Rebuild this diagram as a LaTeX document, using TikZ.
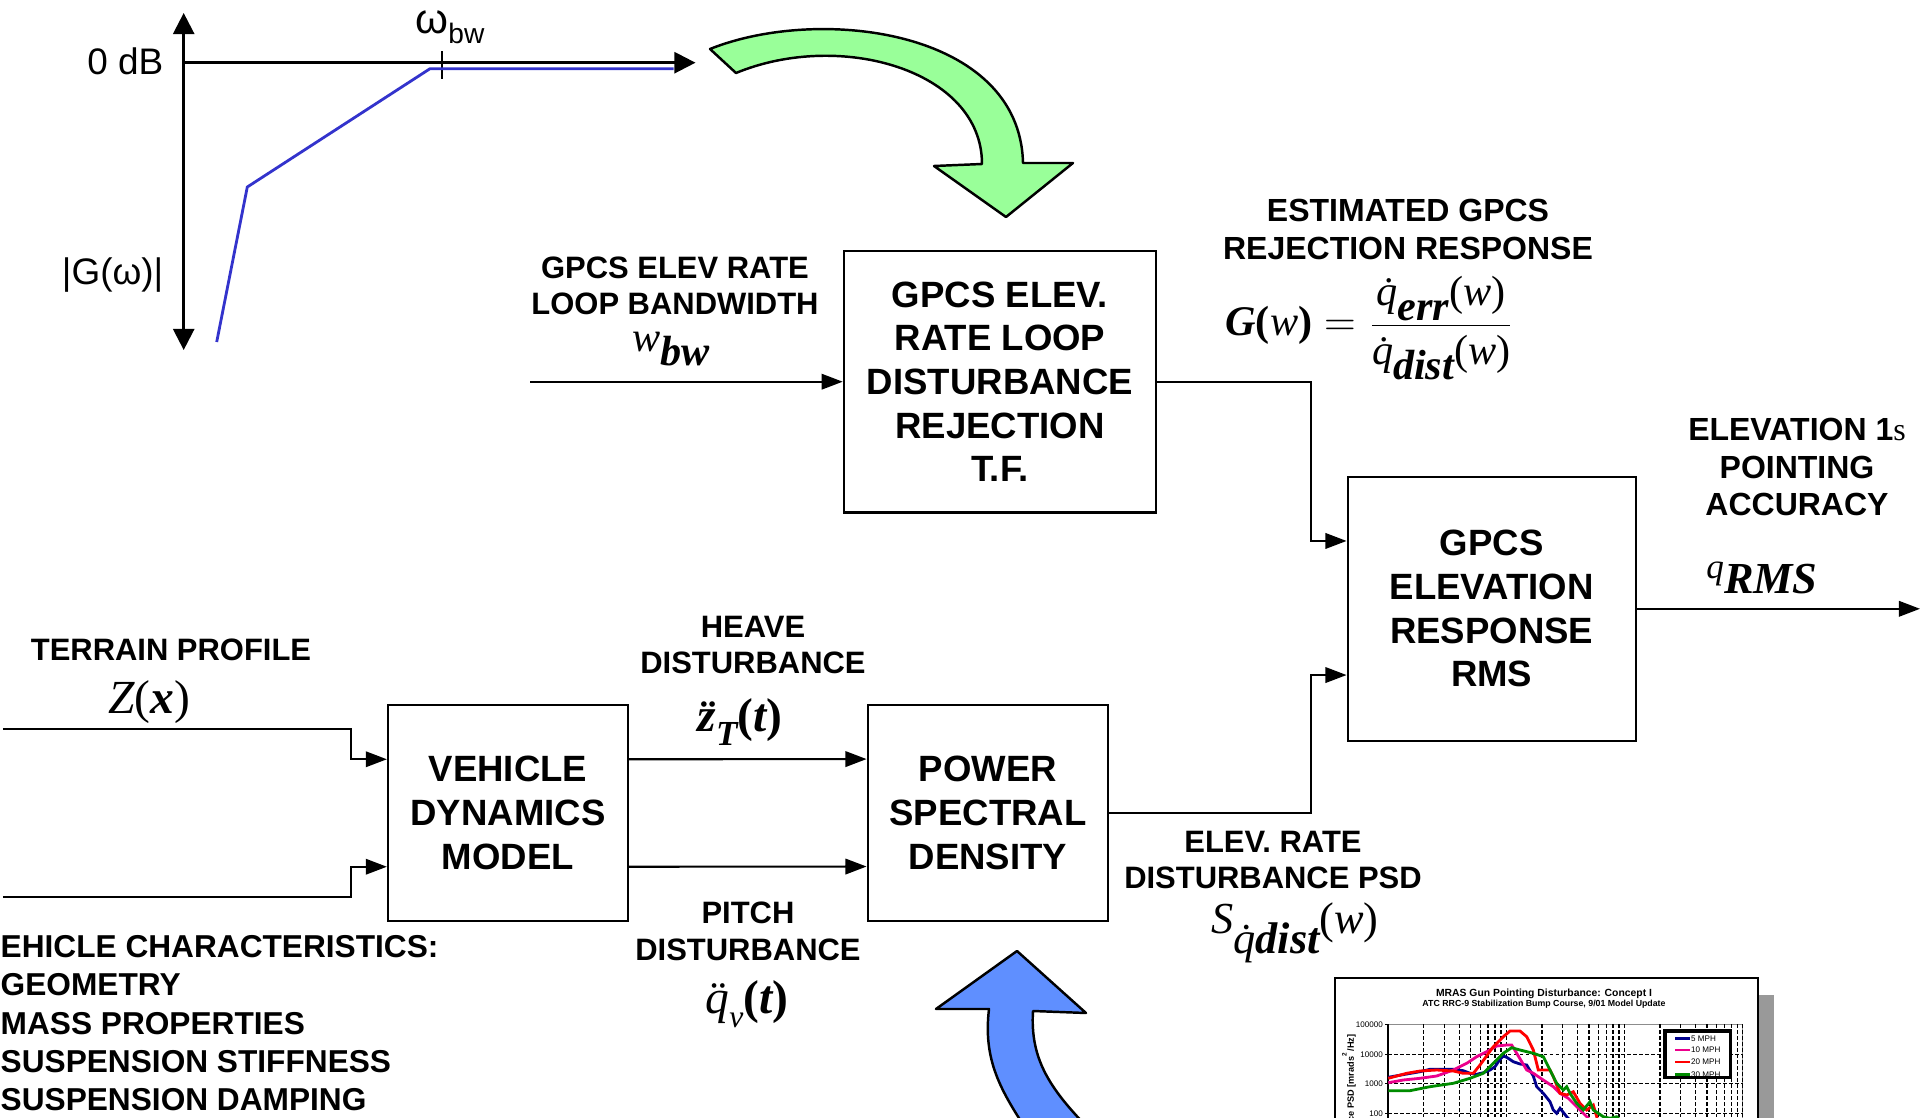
\documentclass[tikz,border=0pt]{standalone}
\usepackage{fontspec}
\setmainfont{Liberation Sans}
\newfontfamily\eqfont{Liberation Serif}
\usetikzlibrary{arrows.meta, positioning}
\definecolor{bodeblue}{RGB}{51,51,204}
\definecolor{turngreen}{HTML}{99FF99}
\definecolor{turnblue}{HTML}{5F8FFF}
\definecolor{navyline}{RGB}{0,0,140}

\begin{document}
\begin{tikzpicture}[x=0.01cm, y=-0.01cm,
    box/.style={rectangle, draw, line width=0.6pt, align=center, inner sep=0pt, font=\fontsize{10.4}{12.4}\selectfont\bfseries},
    lbl/.style={align=center, inner sep=0pt, font=\fontsize{8.8}{10.4}\selectfont\bfseries},
    eq/.style={inner sep=0pt, font=\fontsize{12}{14}\selectfont\eqfont},
    arrow/.style={-{Triangle[length=6pt, width=4.4pt]}, line width=0.6pt},
    axis/.style={line width=0.7pt},
    grid/.style={line width=0.35pt, dash pattern=on 1pt off 0.7pt},
    tiny/.style={inner sep=0pt, font=\fontsize{2.3}{2.6}\selectfont}
]
\useasboundingbox (0,0) rectangle (1920,1118);

% Bode sketch of the rejection response
\draw[axis, {Triangle[length=6pt, width=6pt]}-{Triangle[length=6pt, width=6pt]}] (183.7,350) -- (183.7,13);
\draw[axis, -{Triangle[length=6pt, width=6pt]}] (183.7,62.7) -- (695.5,62.7);
\draw[line width=0.6pt] (442,51) -- (442,79);
\draw[bodeblue, line width=0.8pt] (216.7,342) -- (247.3,187) -- (430,68.7) -- (673.5,68.7);
\node[anchor=east, inner sep=0pt, font=\fontsize{10.5}{12}\selectfont] (zerodb) at (164,61.7) {0 dB};
\node[anchor=east, inner sep=0pt, font=\fontsize{10.5}{12}\selectfont] (gmag) at (164,275) {|G(ω)|};
\node[inner sep=0pt] (wbw) at (450,27) {{\fontsize{12}{12}\selectfont ω}\raisebox{-0.55ex}{\fontsize{8}{8}\selectfont bw}};

% green turn arrow
\draw[fill=turngreen, line width=0.7pt, line join=round] (710,49) .. controls (820,5) and (1020,30) .. (1023,163) -- (1073,163) -- (1006,217) -- (934,166) -- (982,164) .. controls (982,70) and (840,30) .. (736,73) -- cycle;

% blocks
\node[box, minimum width=3.123cm, minimum height=2.615cm] (rtf) at (1000,381.7) {GPCS ELEV.\\RATE LOOP\\DISTURBANCE\\REJECTION\\T.F.};
\node[box, minimum width=2.88cm, minimum height=2.643cm] (resp) at (1491.7,608.8) {GPCS\\ELEVATION\\RESPONSE\\RMS};
\node[box, minimum width=2.4cm, minimum height=2.16cm] (vdm) at (508,813) {VEHICLE\\DYNAMICS\\MODEL};
\node[box, minimum width=2.406cm, minimum height=2.157cm] (psd) at (988,812.8) {POWER\\SPECTRAL\\DENSITY};

% labels
\node[lbl] (bwlbl) at (675,286) {GPCS ELEV RATE\\LOOP BANDWIDTH};
\node[eq] (bweq) at (671,349) {\itshape w\raisebox{-0.35em}{\bfseries bw}};
\node[lbl, font=\fontsize{9.1}{10.8}\selectfont\bfseries] (rejlbl) at (1408,229) {ESTIMATED GPCS\\REJECTION RESPONSE};
\node[eq] (geq) at (1370,328) {$\displaystyle\mbox{\bfseries\itshape G\upshape(\mdseries\itshape w\bfseries\upshape)} = \frac{\mbox{\itshape\.{q}\raisebox{-0.35em}{\bfseries err}\upshape(\itshape w\upshape)}}{\mbox{\itshape\.{q}\raisebox{-0.35em}{\bfseries dist}\upshape(\itshape w\upshape)}}$};
\node[lbl, font=\fontsize{9.1}{10.6}\selectfont\bfseries] (acclbl) at (1797,467) {ELEVATION 1{\eqfont\mdseries s}\\POINTING\\ACCURACY};
\node[eq] (rmseq) at (1762,578) {\raisebox{0.35em}{\fontsize{10}{10}\selectfont\itshape q}{\fontsize{12.6}{14}\selectfont\bfseries\itshape RMS}};
\node[lbl] (heavelbl) at (753,645) {HEAVE\\DISTURBANCE};
\node[eq, font=\fontsize{13.5}{15}\selectfont\eqfont] (heaveeq) at (740,722) {\bfseries\itshape\"{z}\raisebox{-0.3em}{\fontsize{10}{10}\selectfont T}\upshape(\itshape t\upshape)};
\node[lbl] (pitchlbl) at (748,931.5) {PITCH\\DISTURBANCE};
\node[eq, font=\fontsize{13.5}{15}\selectfont\eqfont] (pitcheq) at (747,1004) {\itshape\"{q}\raisebox{-0.3em}{\fontsize{9}{9}\selectfont v}\bfseries\upshape(\itshape t\upshape)};
\node[lbl] (terrlbl) at (171,650) {TERRAIN PROFILE};
\node[eq, font=\fontsize{13.5}{15}\selectfont\eqfont] (terreq) at (149,702) {\itshape Z\upshape(\bfseries\itshape x\mdseries\upshape)};
\node[lbl] (psdlbl) at (1273,860) {ELEV. RATE\\DISTURBANCE PSD};
\node[eq, font=\fontsize{12.6}{14}\selectfont\eqfont] (psdeq) at (1295,933) {\itshape S\raisebox{-0.45em}{\.{q}\bfseries dist}\mdseries\upshape(\itshape w\upshape)};
\node[lbl, anchor=west, align=left, font=\fontsize{9}{10.9}\selectfont\bfseries] (vchar) at (0,1023.4) {EHICLE CHARACTERISTICS:\\GEOMETRY\\MASS PROPERTIES\\SUSPENSION STIFFNESS\\SUSPENSION DAMPING};

% free ends
\coordinate (bwin) at (530,381.7);
\coordinate (tin) at (3,729);
\coordinate (cin) at (3,896.7);
\coordinate (out) at (1920,608.8);

% connectors
\draw[arrow] (bwin) -- (rtf.west);
\draw[arrow] (rtf.east) -| ([xshift=-0.357cm, yshift=0.678cm]resp.west) -- ([yshift=0.678cm]resp.west);
\draw[arrow] (psd.east) -| ([xshift=-0.357cm, yshift=-0.662cm]resp.west) -- ([yshift=-0.662cm]resp.west);
\draw[arrow] (resp.east) -- (out);
\draw[arrow] (tin) -| ([xshift=-0.356cm, yshift=0.537cm]vdm.west) -- ([yshift=0.537cm]vdm.west);
\draw[arrow] (cin) -| ([xshift=-0.356cm, yshift=-0.537cm]vdm.west) -- ([yshift=-0.537cm]vdm.west);
\draw[arrow] ([yshift=0.537cm]vdm.east) -- ([yshift=0.537cm]psd.west);
\draw[arrow] ([yshift=-0.537cm]vdm.east) -- ([yshift=-0.537cm]psd.west);

\begin{scope}
\clip (0,0) rectangle (1920,1118);
% blue turn arrow
\draw[fill=turnblue, line width=0.7pt, line join=round] (1017,951) -- (1086,1013) -- (1033,1011) .. controls (1030,1060) and (1050,1090) .. (1095,1135) -- (1030,1135) .. controls (1000,1090) and (983,1060) .. (989,1009) -- (936,1009) -- cycle;

% PSD chart
\fill[black!40] (1758,995) rectangle (1774,1130);
\draw[fill=white, line width=0.6pt] (1335,978.3) rectangle (1757.7,1130);
\node[inner sep=0pt, font=\fontsize{2.95}{3.2}\selectfont\bfseries] (ctitle) at (1544,994) {MRAS Gun Pointing Disturbance: Concept I};
\node[inner sep=0pt, font=\fontsize{2.5}{2.8}\selectfont\bfseries] (csub) at (1544,1004) {ATC RRC-9 Stabilization Bump Course, 9/01 Model Update};
\draw[black!45, line width=0.4pt] (1388.3,1024.3) rectangle (1742.7,1135);
\foreach \d in {0,1,2}
  \foreach \k in {2,...,10}
    \draw[grid] ({1388.3+118.1*(\d+log10(\k))},1024.3) -- ++(0,110);
\foreach \yy in {1054.3,1083.7,1113.3}
  \draw[grid] (1388.3,\yy) -- (1742.7,\yy);
\draw[line width=0.5pt] (1388.3,1024.3) -- (1388.3,1135);
\foreach \v/\yy in {100000/1024.3, 10000/1054.3, 1000/1083.7, 100/1113.3} {
  \draw[line width=0.4pt] (1385,\yy) -- (1388.3,\yy);
  \node[tiny, anchor=east] (tk\v) at (1383.5,\yy) {\v};
}
\node[inner sep=0pt, rotate=90, font=\fontsize{2.6}{2.8}\selectfont\bfseries] (cylbl) at (1349,1078) {ce PSD [mrads\textsuperscript{2}/Hz]};
\draw[navyline, line width=0.8pt] plot coordinates {(1388.3,1077.3) (1406.7,1074) (1420,1071.7) (1430,1069.3) (1453.3,1069.3) (1463.3,1070.7) (1470,1073.3) (1476.7,1074.3) (1483.3,1072.7) (1490,1070) (1495,1066.7) (1500,1059.3) (1503.3,1056) (1506.7,1057.3) (1513.3,1061.7) (1520,1064) (1526.7,1065) (1533.3,1076) (1536.7,1086.7) (1543.3,1093.3) (1550,1101.7) (1553.3,1110) (1556.7,1113.3) (1560,1108.3) (1566.7,1116.7) (1573.3,1123.3)};
\draw[magenta, line width=0.8pt] plot coordinates {(1388.3,1082.7) (1403.3,1080) (1420,1078.3) (1436.7,1076) (1453.3,1070) (1466.7,1063.3) (1476.7,1056.7) (1486.7,1051.7) (1496.7,1046) (1506.7,1045) (1511.7,1045) (1516.7,1053.3) (1526.7,1070) (1533.3,1073.3) (1543.3,1080) (1553.3,1086.7) (1560,1093.3) (1568.3,1098.3) (1573.3,1103.3) (1580,1110) (1586.7,1116.7) (1593.3,1123.3)};
\draw[red, line width=0.8pt] plot coordinates {(1388.3,1078.3) (1406.7,1073.3) (1420,1071) (1436.7,1070) (1453.3,1071) (1463.3,1073.3) (1473.3,1073.3) (1480,1065) (1493.3,1046.7) (1503.3,1036.7) (1510,1031) (1520,1031) (1526.7,1036.7) (1533.3,1050) (1538.3,1070) (1550,1070) (1553.3,1076.7) (1560,1093.3) (1566.7,1095) (1573.3,1091.7) (1580,1103.3) (1586.7,1110) (1593.3,1105) (1596.7,1116.7) (1598.3,1123.3)};
\draw[green!55!black, line width=0.8pt] plot coordinates {(1388.3,1090.7) (1410,1090.7) (1430,1086.7) (1453.3,1083.3) (1470,1078.3) (1483.3,1073.3) (1493.3,1063.3) (1503.3,1053.3) (1511.7,1047.7) (1520,1050) (1533.3,1053.3) (1543.3,1056.7) (1550,1070) (1556.7,1083.3) (1563.3,1090) (1566.7,1086.7) (1570,1093.3) (1576.7,1103.3) (1583.3,1110) (1590,1101.7) (1593.3,1110) (1603.3,1116.7) (1610,1118.3) (1616.7,1116.7) (1625,1125)};
% legend
\fill[white] (1665,1031) rectangle (1730.7,1077.3);
\foreach \c/\t/\yy in {navyline/5 MPH/1038.3, magenta/10 MPH/1050, red/20 MPH/1062, green!55!black/30 MPH/1074.5} {
  \draw[\c, line width=0.8pt] (1675,\yy) -- (1690,\yy);
  \node[tiny, anchor=west] (lg\yy) at (1690.5,\yy) {\t};
}
\draw[line width=0.9pt] (1665,1031) rectangle (1730.7,1077.3);
\end{scope}
\end{tikzpicture}
\end{document}
